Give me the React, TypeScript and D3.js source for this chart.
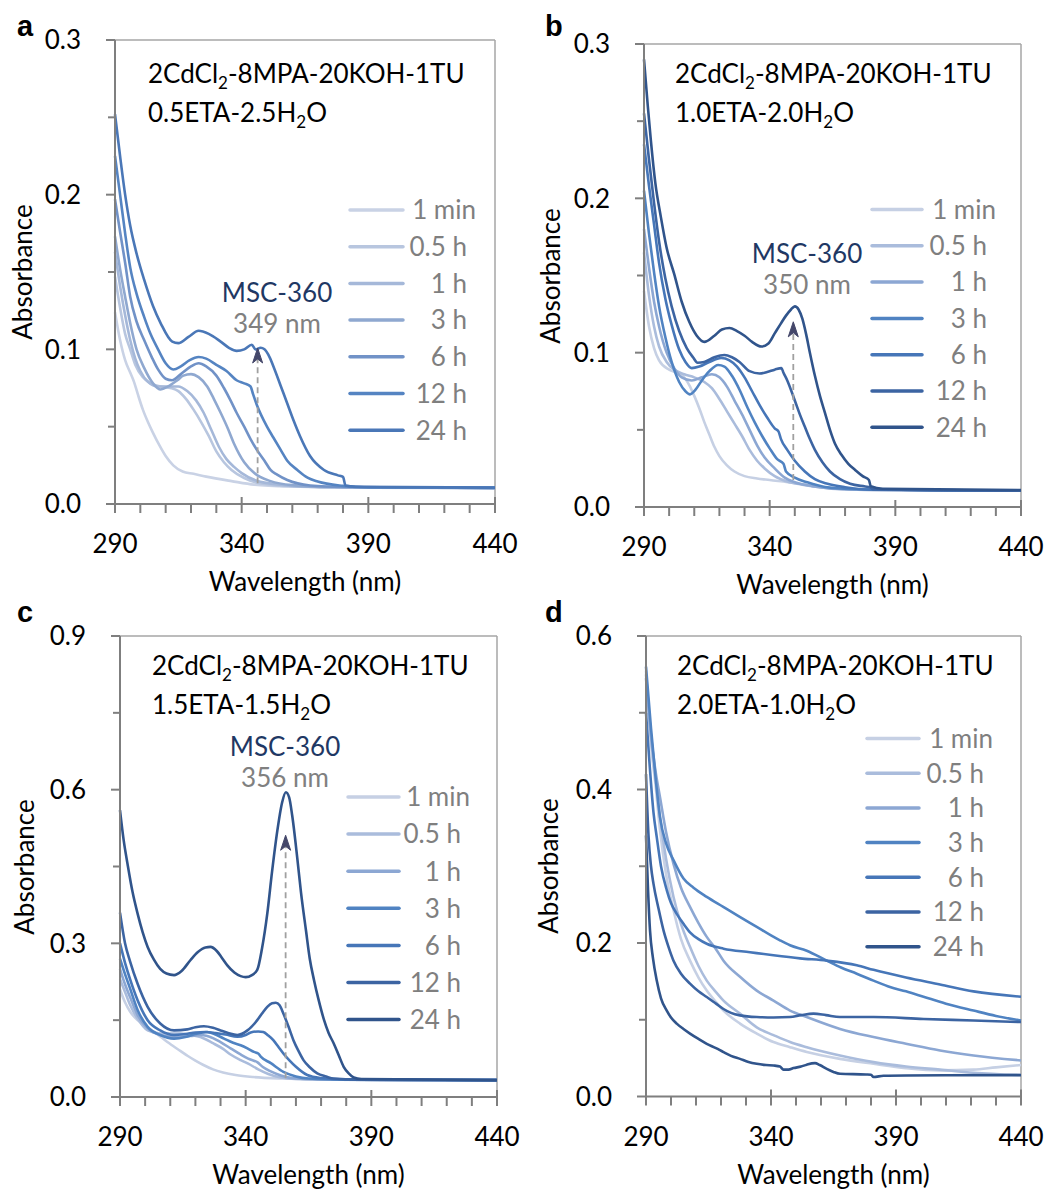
import React from 'react';
import * as d3 from 'd3';

type Pt = [number, number];

const legendLabels = ['1 min', '0.5 h', '1 h', '3 h', '6 h', '12 h', '24 h'];
const wavelengthTicks = [290, 340, 390, 440];

// panel a : 0.5ETA-2.5H2O
const a1min: Pt[] = [[290,0.124],[292,0.106],[294,0.093],[296,0.085],[297.5,0.079],[299,0.071],[301,0.061],[303,0.053],[305,0.046],[307.5,0.038],[310,0.031],[313,0.025],[316.7,0.021],[321,0.0195],[326,0.0177],[336,0.0148],[345,0.0125],[360,0.0113],[390,0.0106],[440,0.0104]];
const a05h: Pt[] = [[290,0.147],[292,0.127],[294,0.11],[296,0.1],[298,0.09],[301,0.082],[304,0.078],[308,0.076],[312,0.075],[315,0.073],[318,0.068],[321,0.061],[324,0.053],[327,0.044],[330,0.034],[333,0.027],[336,0.022],[341,0.0168],[347,0.0135],[360,0.0115],[390,0.0106],[440,0.0104]];
const a1h: Pt[] = [[290,0.163],[292,0.141],[294,0.122],[296,0.106],[298,0.094],[300,0.086],[303,0.079],[307,0.076],[311,0.076],[315,0.076],[318.5,0.073],[322,0.067],[325,0.059],[328,0.048],[331,0.037],[334,0.029],[337,0.024],[340,0.02],[346,0.015],[355,0.0125],[370,0.011],[440,0.0104]];
const a3h: Pt[] = [[290,0.173],[292,0.152],[294,0.134],[296,0.117],[298.5,0.1],[301.5,0.088],[305,0.078],[308,0.074],[311,0.076],[314.6,0.08],[317,0.083],[320,0.084],[323,0.082],[326.4,0.076],[329,0.068],[331.7,0.059],[334.5,0.049],[337,0.039],[341,0.027],[345,0.02],[351.4,0.0148],[360,0.0122],[375,0.011],[440,0.0104]];
const a6h: Pt[] = [[290,0.197],[292,0.176],[294,0.156],[296,0.134],[298.5,0.118],[301.5,0.106],[304.5,0.095],[307,0.087],[310,0.081],[312.5,0.08],[316,0.084],[320,0.089],[323,0.091],[326,0.089],[330,0.083],[333,0.075],[335.6,0.067],[338,0.059],[341,0.05],[343.5,0.042],[346,0.035],[349,0.028],[351.4,0.022],[354,0.019],[358,0.0155],[367,0.012],[380,0.011],[440,0.0104]];
const a12h: Pt[] = [[290,0.225],[292,0.2],[294,0.175],[296,0.153],[298.5,0.136],[301.5,0.121],[304,0.11],[307,0.1],[310,0.091],[313,0.087],[316,0.089],[319.5,0.093],[323,0.095],[326,0.094],[330,0.09],[334,0.086],[338,0.08],[341,0.078],[343.5,0.076],[344.5,0.071],[346,0.064],[350,0.05],[352.5,0.043],[355.4,0.035],[358,0.028],[362,0.022],[366,0.017],[370,0.0145],[380,0.0117],[390,0.0107],[440,0.0104]];
const a24h: Pt[] = [[290,0.252],[292,0.225],[294,0.2],[296,0.18],[298.5,0.162],[301.5,0.145],[305,0.128],[308,0.117],[312.6,0.105],[315,0.104],[319,0.108],[323,0.112],[327,0.11],[331.7,0.105],[335,0.101],[338,0.099],[341,0.1],[344,0.103],[345.5,0.1],[347.5,0.101],[349,0.1],[351,0.095],[353,0.087],[355.5,0.076],[358,0.065],[360.5,0.054],[363,0.044],[367,0.031],[372.5,0.022],[378,0.0185],[380,0.0175],[381,0.012],[385,0.0112],[440,0.0106]];

// panel b : 1.0ETA-2.0H2O
const b1min: Pt[] = [[290,0.14],[292,0.117],[294,0.103],[296,0.095],[300,0.089],[303,0.087],[305.5,0.085],[308,0.079],[310,0.072],[312,0.064],[314,0.055],[316,0.047],[318,0.039],[320,0.033],[323,0.027],[326,0.023],[330,0.02],[335,0.0185],[340,0.0175],[350,0.0155],[360,0.013],[380,0.011],[440,0.0105]];
const b05h: Pt[] = [[290,0.165],[292,0.137],[294,0.117],[296,0.104],[299,0.094],[302,0.089],[306,0.086],[310,0.084],[314,0.081],[317,0.077],[320,0.07],[323,0.062],[326,0.054],[329,0.046],[332,0.037],[335,0.03],[338,0.025],[342,0.02],[347,0.0165],[353,0.0145],[362,0.0125],[380,0.011],[440,0.0105]];
const b1h: Pt[] = [[290,0.18],[292,0.155],[294,0.133],[296,0.117],[299,0.1],[302,0.09],[305,0.084],[309,0.082],[313,0.084],[317,0.086],[320,0.084],[323,0.078],[326,0.069],[329,0.06],[332,0.05],[335,0.04],[338,0.032],[342,0.025],[346,0.019],[350,0.016],[357,0.0135],[370,0.0115],[440,0.0105]];
const b3h: Pt[] = [[290,0.205],[292,0.177],[294,0.152],[296,0.13],[298.5,0.11],[301,0.094],[304,0.081],[306.5,0.075],[308.3,0.073],[310.5,0.076],[313,0.082],[316,0.088],[319.5,0.092],[322,0.091],[325,0.085],[328,0.076],[331.3,0.064],[334,0.055],[337,0.046],[340,0.038],[343,0.031],[345.5,0.028],[346.5,0.023],[350,0.019],[355,0.016],[362,0.013],[375,0.0115],[440,0.0105]];
const b6h: Pt[] = [[290,0.235],[292,0.208],[294,0.183],[296,0.158],[298.5,0.135],[301,0.118],[304,0.102],[306.5,0.094],[309,0.09],[312,0.091],[316,0.094],[320.7,0.0965],[324,0.095],[327,0.091],[330,0.084],[333,0.075],[336,0.066],[339,0.058],[342,0.051],[343.5,0.049],[344.5,0.044],[347,0.037],[350,0.03],[354,0.023],[358,0.018],[363,0.015],[370,0.0128],[380,0.0112],[440,0.0105]];
const b12h: Pt[] = [[290,0.255],[292,0.225],[294,0.197],[296,0.172],[298.5,0.148],[301,0.13],[304,0.114],[307,0.103],[309.5,0.097],[311.3,0.0935],[314,0.094],[318,0.097],[322,0.0985],[325,0.097],[328,0.094],[332,0.088],[336,0.0865],[339,0.0875],[342,0.089],[344.7,0.09],[345.5,0.087],[347,0.082],[350,0.069],[352,0.06],[354,0.052],[356,0.044],[358,0.037],[361,0.029],[364,0.023],[368,0.018],[372,0.015],[378,0.0133],[380,0.0128],[381,0.0115],[440,0.0105]];
const b24h: Pt[] = [[290,0.29],[291.5,0.26],[292.7,0.238],[294.5,0.21],[296.7,0.188],[299,0.168],[302,0.151],[305,0.133],[308,0.12],[311,0.111],[314,0.107],[318,0.111],[321,0.115],[324,0.116],[327,0.114],[330,0.111],[333,0.107],[336.7,0.104],[339.5,0.106],[342,0.1125],[344.5,0.119],[346.5,0.124],[348.5,0.128],[350,0.13],[351.5,0.128],[353,0.122],[354.5,0.112],[356,0.1],[358,0.085],[360,0.072],[362,0.061],[364,0.05],[366,0.041],[368.5,0.034],[371.3,0.028],[374,0.024],[377,0.02],[379.5,0.0175],[380.2,0.0135],[385,0.0118],[440,0.011]];

// panel c : 1.5ETA-1.5H2O
const c1min: Pt[] = [[290,0.21],[292,0.185],[294,0.167],[297,0.15],[301,0.136],[306,0.118],[311,0.1],[314,0.09],[317,0.08],[320,0.071],[323,0.063],[327,0.054],[331,0.048],[336,0.043],[343,0.039],[355,0.036],[370,0.0345],[390,0.0335],[440,0.033]];
const c05h: Pt[] = [[290,0.23],[292,0.205],[294,0.18],[297,0.153],[301,0.13],[306,0.124],[310,0.124],[314,0.124],[318,0.121],[322,0.117],[327,0.105],[331,0.094],[334,0.083],[338,0.072],[341,0.065],[345,0.054],[349,0.045],[354,0.038],[360,0.035],[375,0.034],[440,0.033]];
const c1h: Pt[] = [[290,0.25],[292,0.22],[294,0.195],[297,0.16],[301,0.134],[306,0.121],[310,0.118],[314,0.1175],[318,0.119],[322,0.121],[327,0.115],[330,0.107],[334,0.095],[338,0.083],[341,0.075],[344.6,0.068],[347,0.058],[350,0.05],[354,0.042],[360,0.036],[375,0.034],[440,0.033]];
const c3h: Pt[] = [[290,0.27],[292,0.24],[294,0.212],[297,0.17],[301,0.137],[306,0.121],[311.5,0.114],[316,0.117],[320,0.123],[324.7,0.127],[328,0.122],[331.4,0.114],[335,0.106],[338,0.101],[341,0.094],[343.3,0.088],[345,0.085],[346,0.079],[350,0.066],[355,0.049],[360,0.04],[365,0.036],[380,0.034],[440,0.033]];
const c6h: Pt[] = [[290,0.3],[292,0.262],[294,0.23],[297,0.189],[301,0.15],[306,0.13],[311.5,0.121],[316,0.123],[320,0.126],[324,0.127],[328,0.125],[332,0.122],[336.7,0.1175],[340,0.121],[342,0.126],[345,0.128],[347,0.127],[349,0.12],[351,0.111],[353,0.098],[355,0.085],[357.5,0.071],[360,0.059],[364.5,0.043],[370,0.037],[380,0.034],[440,0.033]];
const c12h: Pt[] = [[290,0.36],[292,0.3],[294,0.265],[297,0.221],[301,0.176],[306,0.1435],[311.5,0.13],[316.8,0.132],[320,0.136],[323.4,0.138],[327,0.135],[330,0.13],[333,0.125],[336.7,0.121],[340.7,0.13],[344.6,0.15],[346.5,0.163],[348.6,0.176],[350.5,0.183],[352,0.184],[353.5,0.179],[355,0.163],[357,0.138],[359,0.111],[361,0.09],[363,0.072],[365.5,0.058],[368.5,0.046],[372,0.04],[375,0.036],[385,0.034],[440,0.033]];
const c24h: Pt[] = [[290,0.56],[291.5,0.5],[293,0.455],[295,0.4],[297,0.358],[299,0.322],[301,0.293],[303.5,0.268],[306,0.25],[308.5,0.241],[311.5,0.238],[314.5,0.246],[318,0.267],[321,0.283],[324,0.292],[326,0.293],[328.5,0.285],[330.5,0.272],[332.7,0.257],[335.5,0.243],[338,0.236],[340,0.234],[342.5,0.238],[344.6,0.248],[346.5,0.29],[348.6,0.358],[350.5,0.44],[352.6,0.52],[354.5,0.575],[356,0.595],[357.3,0.585],[358.5,0.55],[360.5,0.468],[362,0.4],[364,0.325],[365.5,0.27],[367.2,0.228],[369,0.19],[371.2,0.15],[373,0.125],[375,0.105],[377,0.082],[379,0.059],[381,0.046],[383,0.038],[386,0.035],[440,0.033]];

// panel d : 2.0ETA-1.0H2O
const d1min: Pt[] = [[290,0.555],[292,0.46],[294,0.4],[295.6,0.347],[298,0.29],[301,0.243],[304,0.205],[307.6,0.177],[311,0.155],[314.3,0.138],[318,0.123],[321,0.112],[327.6,0.095],[334.3,0.082],[341,0.071],[347.6,0.0643],[354.3,0.058],[367.6,0.049],[381,0.0426],[394,0.037],[407.6,0.034],[421,0.035],[430,0.038],[440,0.041]];
const d05h: Pt[] = [[290,0.55],[292,0.47],[294,0.41],[295.6,0.364],[298,0.31],[301,0.26],[304,0.225],[307.6,0.195],[311,0.17],[314.3,0.151],[318,0.136],[321,0.125],[327.6,0.108],[334.3,0.09],[341,0.08],[347.6,0.071],[354.3,0.0643],[367.6,0.0535],[381,0.0448],[394,0.039],[407.6,0.035],[421,0.031],[440,0.028]];
const d1h: Pt[] = [[290,0.545],[292,0.47],[294,0.42],[295.6,0.39],[298,0.345],[301,0.303],[304,0.272],[307.6,0.247],[311,0.226],[314.3,0.208],[318,0.192],[321,0.177],[327.6,0.156],[334.3,0.138],[341,0.125],[347.6,0.112],[354.3,0.1035],[367.6,0.088],[381,0.0774],[394,0.0687],[407.6,0.06],[421,0.0535],[440,0.047]];
const d3h: Pt[] = [[290,0.56],[292,0.48],[294,0.41],[295.6,0.364],[298,0.33],[301,0.308],[305,0.284],[309,0.272],[314.3,0.26],[320.9,0.247],[327,0.235],[334.3,0.221],[340,0.21],[343.6,0.2035],[347.6,0.197],[354.3,0.19],[362.3,0.177],[368,0.168],[374.3,0.16],[381,0.151],[387.6,0.1426],[394,0.137],[401,0.13],[410,0.121],[421,0.112],[430,0.105],[440,0.099]];
const d6h: Pt[] = [[290,0.5],[291.5,0.43],[293,0.37],[294.3,0.338],[296,0.3],[298.3,0.269],[300,0.252],[302.3,0.238],[305,0.225],[307.6,0.214],[311,0.205],[314.3,0.199],[321,0.1926],[331.6,0.188],[341,0.184],[351.6,0.18],[362.3,0.177],[374.3,0.171],[381,0.165],[394,0.155],[407.6,0.146],[421,0.137],[440,0.13]];
const d12h: Pt[] = [[290,0.42],[291,0.34],[292,0.3],[293,0.277],[295,0.245],[297,0.2165],[299,0.195],[301,0.177],[304,0.16],[307.6,0.147],[311,0.137],[314.3,0.1296],[318,0.121],[321,0.114],[324,0.109],[327.6,0.1057],[334.3,0.1035],[341,0.103],[347.6,0.1035],[352,0.106],[357,0.108],[362,0.106],[367.6,0.1035],[381,0.1035],[401,0.101],[421,0.099],[440,0.097]];
const d24h: Pt[] = [[290,0.34],[290.8,0.27],[291.6,0.2165],[292.8,0.18],[294.3,0.151],[296,0.128],[298.3,0.112],[300,0.103],[302.3,0.095],[305,0.088],[307.6,0.082],[311,0.075],[314.3,0.0687],[318,0.063],[321,0.0578],[324,0.053],[327.6,0.049],[331,0.045],[334.3,0.0426],[338,0.041],[341,0.0404],[343.6,0.039],[345,0.035],[347,0.035],[349,0.037],[352,0.039],[354.3,0.0415],[357.6,0.0435],[359.5,0.041],[362.3,0.036],[365,0.032],[367.6,0.0296],[378,0.0287],[380,0.0283],[381,0.0255],[385,0.027],[394,0.0274],[440,0.0278]];

const aColors = ['#c9d2e5', '#b8c6df', '#a5b8d9', '#8fa8d0', '#7192c7', '#5584c2', '#4a77b7'];
const bColors = ['#c6d0e4', '#aabcdc', '#8ca7d3', '#5083c2', '#4676b8', '#3c64a2', '#30548b'];

// MSC-360 peak annotations
const aPeak = { label: '349 nm', wavelength: 346.3, from: 0.0134, to: 0.1009 };
const bPeak = { label: '350 nm', wavelength: 349.4, from: 0.0175, to: 0.12 };
const cPeak = { label: '356 nm', wavelength: 355.9, from: 0.0365, to: 0.511 };

const font = "Lato, 'Open Sans', sans-serif";

const panels = [
  {
    letter: 'a', lx: 17, ly: 36, x0: 115, x1: 495, y0: 40, y1: 504, yMax: 0.3, yStep: 0.1,
    line2: ['0.5ETA-2.5H', 'O'], tx: 148, ty: 83, series: [a1min, a05h, a1h, a3h, a6h, a12h, a24h], colors: aColors,
    legX0: 350, legX1: 403, legEnd: 467, legY: 210, legStep: 36.7,
    absX: 32, absY: 272, peak: aPeak, peakX: 277, peakY: 302,
  },
  {
    letter: 'b', lx: 545, ly: 36, x0: 644, x1: 1021, y0: 44, y1: 507, yMax: 0.3, yStep: 0.1,
    line2: ['1.0ETA-2.0H', 'O'], tx: 675, ty: 83, series: [b1min, b05h, b1h, b3h, b6h, b12h, b24h], colors: bColors,
    legX0: 872, legX1: 922, legEnd: 987, legY: 209.5, legStep: 36.3,
    absX: 560, absY: 276, peak: bPeak, peakX: 807, peakY: 263,
  },
  {
    letter: 'c', lx: 17, ly: 622, x0: 120, x1: 497, y0: 636, y1: 1097, yMax: 0.9, yStep: 0.3,
    line2: ['1.5ETA-1.5H', 'O'], tx: 152, ty: 675, series: [c1min, c05h, c1h, c3h, c6h, c12h, c24h], colors: bColors,
    legX0: 348, legX1: 399, legEnd: 461, legY: 797, legStep: 37.1,
    absX: 34, absY: 867, peak: cPeak, peakX: 285, peakY: 756,
  },
  {
    letter: 'd', lx: 545, ly: 622, x0: 646, x1: 1021, y0: 636, y1: 1096.5, yMax: 0.6, yStep: 0.2,
    line2: ['2.0ETA-1.0H', 'O'], tx: 677, ty: 675, series: [d1min, d05h, d1h, d3h, d6h, d12h, d24h], colors: bColors,
    legX0: 867, legX1: 919, legEnd: 984, legY: 738.5, legStep: 34.7,
    absX: 558, absY: 866, peak: null, peakX: 0, peakY: 0,
  },
];

function Panel({ p }: { p: any }) {
  const x = d3.scaleLinear().domain([290, 440]).range([p.x0, p.x1]);
  const y = d3.scaleLinear().domain([0, p.yMax]).range([p.y1, p.y0]);
  const line = d3.line<Pt>().x(d => x(d[0])).y(d => y(d[1])).curve(d3.curveMonotoneX);
  const minorX = d3.range(290, 441, 10);
  const nY = Math.round(p.yMax / (p.yStep / 2));
  const yTicks = d3.range(0, nY + 1).map(i => (i * p.yStep) / 2);
  const axisColor = '#7f7f7f';

  return (
    <g fontFamily={font}>
      <text x={p.lx} y={p.ly} fontFamily="'Liberation Sans', Arial, sans-serif" fontWeight="bold" fontSize={29}>{p.letter}</text>

      {/* frame */}
      <line x1={p.x0} x2={p.x1} y1={p.y0} y2={p.y0} stroke="#a6a6a6" strokeWidth={1.5} />
      <line x1={p.x1} x2={p.x1} y1={p.y0} y2={p.y1} stroke="#a6a6a6" strokeWidth={1.5} />

      {/* curves */}
      {p.series.map((s: Pt[], i: number) => (
        <path key={i} d={line(s) || ''} fill="none" stroke={p.colors[i]} strokeWidth={2.6} strokeLinejoin="round" />
      ))}

      {/* axes */}
      <line x1={p.x0} x2={p.x1} y1={p.y1} y2={p.y1} stroke={axisColor} strokeWidth={2} />
      <line x1={p.x0} x2={p.x0} y1={p.y0} y2={p.y1} stroke={axisColor} strokeWidth={2} />
      {minorX.map(v => {
        const major = wavelengthTicks.includes(v);
        return <line key={v} x1={x(v)} x2={x(v)} y1={p.y1 + (major ? -7 : 0)} y2={p.y1 + 9} stroke={axisColor} strokeWidth={2} />;
      })}
      {yTicks.map((v, i) => (
        <line key={i} x1={p.x0 - (i % 2 === 0 ? 9 : 7)} x2={p.x0} y1={y(v)} y2={y(v)} stroke={axisColor} strokeWidth={2} />
      ))}
      {wavelengthTicks.map(v => (
        <text key={v} x={x(v)} y={p.y1 + 49} textAnchor="middle" fontSize={26} fill="#000">{v}</text>
      ))}
      {yTicks.filter((_, i) => i % 2 === 0).map((v, i) => (
        <text key={i} x={p.x0 - 34} y={y(v)} dy="0.36em" textAnchor="end" fontSize={26} fill="#000">{v.toFixed(1)}</text>
      ))}
      <text x={(p.x0 + p.x1) / 2} y={p.y1 + 87} textAnchor="middle" fontSize={26}>Wavelength (nm)</text>
      <text transform={`translate(${p.absX},${p.absY}) rotate(-90)`} textAnchor="middle" fontSize={26}>Absorbance</text>

      {/* composition */}
      <text x={p.tx} y={p.ty} fontSize={26}>
        2CdCl<tspan fontSize={17} dy={6}>2</tspan><tspan dy={-6}>-8MPA-20KOH-1TU</tspan>
      </text>
      <text x={p.tx} y={p.ty + 38.5} fontSize={26}>
        {p.line2[0]}<tspan fontSize={17} dy={6}>2</tspan><tspan dy={-6}>{p.line2[1]}</tspan>
      </text>

      {/* legend */}
      {legendLabels.map((lab, i) => {
        const ly = p.legY + i * p.legStep;
        return (
          <g key={lab}>
            <line x1={p.legX0} x2={p.legX1} y1={ly} y2={ly} stroke={p.colors[i]} strokeWidth={3.5} strokeLinecap="round" />
            <text x={i === 0 ? p.legEnd + 9 : p.legEnd} y={ly} dy="0.36em" textAnchor="end" fontSize={26} fill="#7f7f7f">{lab}</text>
          </g>
        );
      })}

      {/* peak annotation */}
      {p.peak && (
        <g>
          <text x={p.peakX} y={p.peakY} textAnchor="middle" fontSize={26} fill="#1f3864">MSC-360</text>
          <text x={p.peakX} y={p.peakY + 31} textAnchor="middle" fontSize={26} fill="#808080">{p.peak.label}</text>
          <line x1={x(p.peak.wavelength)} x2={x(p.peak.wavelength)} y1={y(p.peak.from)} y2={y(p.peak.to) + 8}
            stroke="#a0a0a0" strokeWidth={1.8} strokeDasharray="6 4" />
          <path
            d={`M${x(p.peak.wavelength)},${y(p.peak.to)} l-5,15 l5,-4 l5,4 z`}
            fill="#44476a" stroke="#44476a" strokeWidth={1} strokeLinejoin="round"
          />
        </g>
      )}
    </g>
  );
}

export default function App() {
  return (
    <svg width={1049} height={1191} style={{ position: 'absolute', left: 0, top: 0, display: 'block', background: '#fff' }}>
      <rect width={1049} height={1191} fill="#fff" />
      {panels.map(p => <Panel key={p.letter} p={p} />)}
    </svg>
  );
}
